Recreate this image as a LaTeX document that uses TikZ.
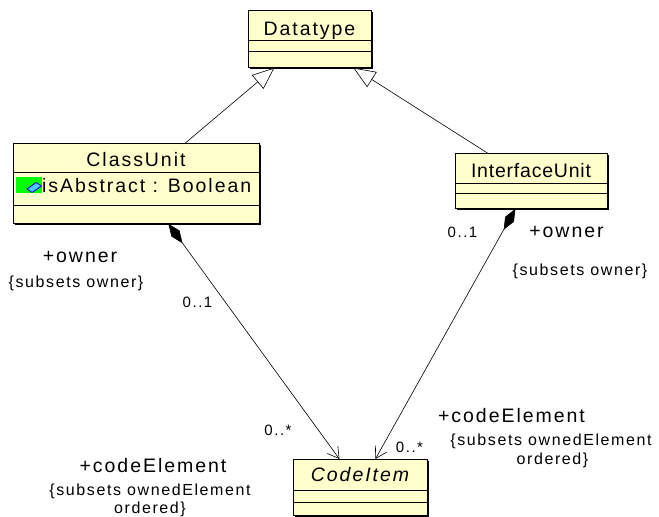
\documentclass[tikz,border=0pt]{standalone}
\usepackage{fontspec}
\setmainfont{Liberation Sans}
\newfontfamily\umlfont[LetterSpace=10]{Liberation Sans}
\usepackage{xcolor}
\usepackage{tikz}
\usetikzlibrary{arrows.meta}
\definecolor{umlyellow}{RGB}{255,255,204}
\definecolor{icongreen}{RGB}{0,255,0}
\definecolor{iconcyan}{RGB}{80,200,255}
\definecolor{iconblue}{RGB}{0,0,210}

\begin{document}
\begin{tikzpicture}[x = 1pt, y = -1pt,
  classbox/.style = {draw, fill = umlyellow, line width = 0.8pt, inner sep = 0pt, anchor = north west},
  classname/.style = {font = \umlfont\fontsize{19.5}{22}\selectfont, anchor = base, inner sep = 0pt},
  rolename/.style = {font = \umlfont\fontsize{19.5}{22}\selectfont, anchor = base, inner sep = 0pt},
  constraint/.style = {font = \umlfont\fontsize{16}{18}\selectfont, anchor = base, inner sep = 0pt},
  mult/.style = {font = \umlfont\fontsize{15}{17}\selectfont, anchor = base, inner sep = 0pt},
  shadowline/.style = {line width = 1.4pt},
  inherit/.style = {line width = 0.6pt, -{Triangle[length = 22pt, width = 18pt, fill = white, line width = 0.6pt]}},
  compose/.style = {line width = 0.6pt, {Diamond[length = 24pt, width = 10pt]}-{Straight Barb[length = 11pt, width = 13pt, line width = 0.6pt]}}]
\useasboundingbox (0, 0) rectangle (659, 517);

% class boxes
\node [classbox, minimum width = 123pt, minimum height = 57pt] (datatype) at (248, 10) {};
\node [classbox, minimum width = 246pt, minimum height = 80pt] (classunit) at (13, 143) {};
\node [classbox, minimum width = 152pt, minimum height = 55pt] (interfaceunit) at (455, 153) {};
\node [classbox, minimum width = 134pt, minimum height = 56pt] (codeitem) at (293, 459) {};

% compartments
\draw [line width = 0.8pt] ([yshift = -30pt]datatype.north west) -- ([yshift = -30pt]datatype.north east);
\draw [line width = 0.8pt] ([yshift = -41pt]datatype.north west) -- ([yshift = -41pt]datatype.north east);
\draw [line width = 0.8pt] ([yshift = -29pt]classunit.north west) -- ([yshift = -29pt]classunit.north east);
\draw [line width = 0.8pt] ([yshift = -62pt]classunit.north west) -- ([yshift = -62pt]classunit.north east);
\draw [line width = 0.8pt] ([yshift = -30pt]interfaceunit.north west) -- ([yshift = -30pt]interfaceunit.north east);
\draw [line width = 0.8pt] ([yshift = -40pt]interfaceunit.north west) -- ([yshift = -40pt]interfaceunit.north east);
\draw [line width = 0.8pt] ([yshift = -31pt]codeitem.north west) -- ([yshift = -31pt]codeitem.north east);
\draw [line width = 0.8pt] ([yshift = -43pt]codeitem.north west) -- ([yshift = -43pt]codeitem.north east);

% shadows
\draw [shadowline] ([xshift = 0.6pt, yshift = -2pt]datatype.north east) -- ([xshift = 0.6pt, yshift = -0.6pt]datatype.south east) -- ([xshift = 2pt, yshift = -0.6pt]datatype.south west);
\draw [shadowline] ([xshift = 0.6pt, yshift = -2pt]classunit.north east) -- ([xshift = 0.6pt, yshift = -0.6pt]classunit.south east) -- ([xshift = 2pt, yshift = -0.6pt]classunit.south west);
\draw [shadowline] ([xshift = 0.6pt, yshift = -2pt]interfaceunit.north east) -- ([xshift = 0.6pt, yshift = -0.6pt]interfaceunit.south east) -- ([xshift = 2pt, yshift = -0.6pt]interfaceunit.south west);
\draw [shadowline] ([xshift = 0.6pt, yshift = -2pt]codeitem.north east) -- ([xshift = 0.6pt, yshift = -0.6pt]codeitem.south east) -- ([xshift = 2pt, yshift = -0.6pt]codeitem.south west);

% names and attribute
\node [classname] (datatypename) at (309.5, 35) {Datatype};
\node [classname] (classunitname) at (136, 166) {ClassUnit};
\node [classname] (interfaceunitname) at (531, 177) {\addfontfeature{LetterSpace = 4}InterfaceUnit};
\node [classname] (codeitemname) at (360, 481) {\itshape CodeItem};
\fill [icongreen] (16, 176.5) rectangle (42, 193);
\filldraw [fill = iconcyan, draw = iconblue, line width = 0.8pt] (27, 189) -- (36, 182.5) -- (41.5, 186) -- (32, 192.5) -- cycle;
\node [classname, anchor = base west] (isabstract) at (42, 192.5) {isAbstract : Boolean};

% generalizations
\draw [inherit] ([xshift = 49pt]classunit.north) -- ([xshift = -35.5pt]datatype.south);
\draw [inherit] ([xshift = -44pt]interfaceunit.north) -- ([xshift = 43.5pt]datatype.south);

% compositions
\draw [compose] ([xshift = 32pt]classunit.south) -- ([xshift = -21pt]codeitem.north);
\draw [compose] ([xshift = -16pt]interfaceunit.south) -- ([xshift = 15pt]codeitem.north);

% association ends
\node [rolename] (ownerL) at (80, 262) {+owner};
\node [constraint] (subsetsL) at (76, 287) {\{subsets owner\}};
\node [mult] (oneL) at (197.5, 307) {0..1};
\node [mult] (manyL) at (278, 435) {0..*};
\node [rolename] (elementL) at (153, 472) {+codeElement};
\node [constraint] (orderedL) at (150, 495) {\{subsets ownedElement};
\node [constraint] (orderedLb) at (150, 513) {ordered\}};

\node [mult] (oneR) at (462.5, 237) {0..1};
\node [rolename] (ownerR) at (566.5, 237.5) {+owner};
\node [constraint] (subsetsR) at (580, 275) {\{subsets owner\}};
\node [mult] (manyR) at (409.5, 452) {0..*};
\node [rolename] (elementR) at (511.5, 422) {+codeElement};
\node [constraint] (orderedR) at (551, 445) {\{subsets ownedElement};
\node [constraint] (orderedRb) at (552.5, 464) {ordered\}};
\end{tikzpicture}
\end{document}
